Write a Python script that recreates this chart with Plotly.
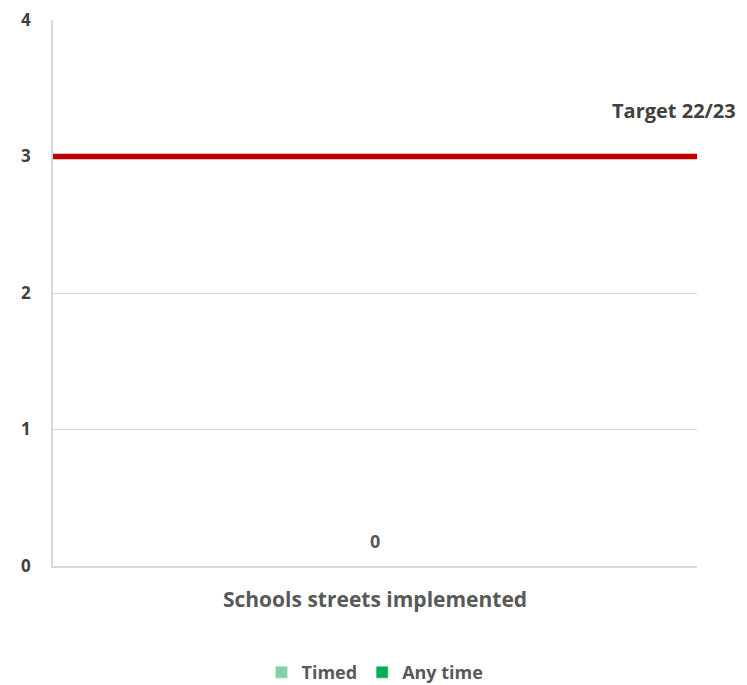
import plotly.graph_objects as go

categories = ["Schools streets implemented"]
timed = [0]
any_time = [0]
target_value = 3
target_label = "Target 22/23"
y_ticks = [0, 1, 2, 3, 4]

font_family = "Open Sans, Lato, sans-serif"
text_color = "#595959"

fig = go.Figure()
fig.add_trace(go.Bar(x=categories, y=timed, name="Timed", marker_color="#7fd3a4", width=0.5))
fig.add_trace(go.Bar(x=categories, y=any_time, name="Any time", marker_color="#00b050", width=0.5))

fig.add_shape(type="line", xref="paper", yref="y", x0=0, x1=1, y0=target_value, y1=target_value,
              line=dict(color="#c00000", width=5.5))

fig.add_annotation(xref="paper", yref="y", x=1.0637, y=target_value, yshift=46, xanchor="right",
                   text=target_label, showarrow=False,
                   font=dict(size=20, color="#404040", family=font_family, weight="bold"))

total = [t + a for t, a in zip(timed, any_time)]
for c, v in zip(categories, total):
    fig.add_annotation(x=c, y=v, yshift=25, text=str(v), showarrow=False,
                       font=dict(size=18, color=text_color, family=font_family, weight="bold"))

fig.update_layout(
    width=739, height=695,
    margin=dict(l=45, r=50, t=12, b=137),
    barmode="stack",
    plot_bgcolor="white", paper_bgcolor="white",
    font=dict(family=font_family, color=text_color),
    showlegend=True,
    legend=dict(orientation="h", x=0.5, xanchor="center", y=-0.195, yanchor="middle",
                font=dict(size=18, color=text_color, family=font_family, weight="bold"),
                itemwidth=30, traceorder="normal", tracegroupgap=0),
    xaxis=dict(showgrid=False, showline=True, linecolor="#d9d9d9", linewidth=1.5,
               tickfont=dict(size=21, color=text_color, family=font_family, weight="bold"),
               ticks="", ticklabelstandoff=14, automargin=False),
    yaxis=dict(range=[0, 4], tickvals=y_ticks, showgrid=True, gridcolor="#d9d9d9", gridwidth=1,
               showline=True, linecolor="#d9d9d9", linewidth=1.5, zeroline=False,
               tickfont=dict(size=17, color="#404040", family=font_family, weight="bold"),
               ticklabelstandoff=17, ticklabeloverflow="allow", automargin=False),
)

fig.write_html("out.html")
